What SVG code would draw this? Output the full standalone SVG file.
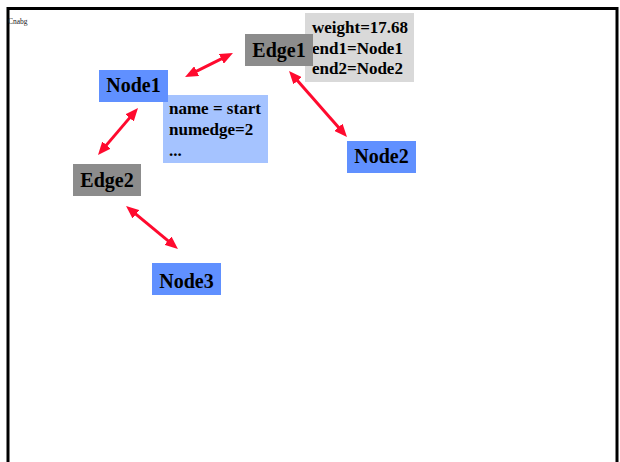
<svg xmlns="http://www.w3.org/2000/svg" width="620" height="462" viewBox="0 0 620 462">
<style>
.node{fill:#6090ff}
.edge{fill:#8c8c8c}
.ninfo{fill:#a5c3ff}
.einfo{fill:#d9d9d9}
.lbl{font-family:"Liberation Serif","Times New Roman",serif;font-weight:bold;font-size:20px;fill:#000;text-anchor:middle}
.info{font-family:"Liberation Serif","Times New Roman",serif;font-weight:bold;font-size:17px;fill:#000}
.conn{stroke:#ff0a2e;stroke-width:3;fill:none;marker-start:url(#ah);marker-end:url(#ah)}
</style>
<defs>
<marker id="ah" markerUnits="userSpaceOnUse" markerWidth="13" markerHeight="11" refX="5" refY="5.5" orient="auto-start-reverse" viewBox="0 0 13 11">
<path d="M0,0 L13,5.5 L0,11 z" fill="#ff0a2e"/>
</marker>
</defs>
<rect x="0" y="0" width="620" height="462" fill="#fff"/>
<rect x="8" y="8.5" width="609" height="480" fill="none" stroke="#000" stroke-width="3"/>
<text x="8" y="24" font-family="Liberation Serif, serif" font-size="7.5" fill="#222">Cnabg</text>

<g id="connectors">
<line class="conn" x1="192.2" y1="73.4" x2="225.8" y2="56.6"/>
<line class="conn" x1="132.8" y1="114.1" x2="103.2" y2="148.9"/>
<line class="conn" x1="294.3" y1="77" x2="341.7" y2="131"/>
<line class="conn" x1="132.2" y1="211.1" x2="171.8" y2="243.9"/>
</g>

<g id="edge1-info">
<rect class="einfo" x="305" y="13" width="109" height="69"/>
<text class="info" x="312" y="33">weight=17.68</text>
<text class="info" x="312" y="54">end1=Node1</text>
<text class="info" x="312" y="74">end2=Node2</text>
</g>
<g id="edge1">
<rect class="edge" x="245" y="34" width="68" height="32"/>
<text class="lbl" x="279" y="57">Edge1</text>
</g>

<g id="node1-info">
<rect class="ninfo" x="163" y="95" width="105" height="68"/>
<text class="info" x="169" y="114">name = start</text>
<text class="info" x="169" y="135">numedge=2</text>
<text class="info" x="169" y="156">...</text>
</g>
<g id="node1">
<rect class="node" x="99" y="70" width="69" height="32"/>
<text class="lbl" x="133.5" y="92">Node1</text>
</g>

<g id="node2">
<rect class="node" x="347" y="141" width="69" height="32"/>
<text class="lbl" x="381.5" y="163">Node2</text>
</g>

<g id="edge2">
<rect class="edge" x="73" y="164" width="68" height="32"/>
<text class="lbl" x="107" y="187">Edge2</text>
</g>

<g id="node3">
<rect class="node" x="152" y="263" width="69" height="32"/>
<text class="lbl" x="186.5" y="288">Node3</text>
</g>
</svg>
